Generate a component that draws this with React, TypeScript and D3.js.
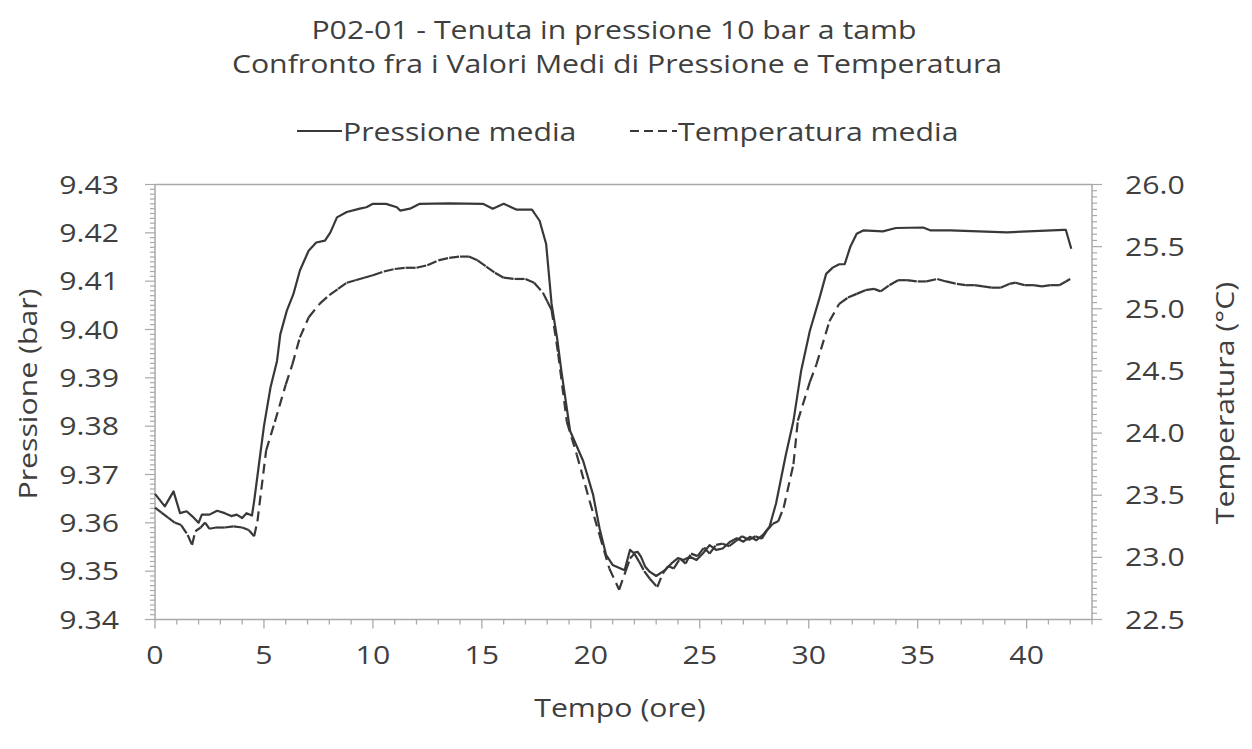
import React from "react";
import * as d3 from "d3";

const titleLines = [
  "P02-01 - Tenuta in pressione 10 bar a tamb",
  "Confronto fra i Valori Medi di Pressione e Temperatura",
];
const seriesNames = ["Pressione media", "Temperatura media"];
const xTitle = "Tempo (ore)";
const yLeftTitle = "Pressione (bar)";
const yRightTitle = "Temperatura (°C)";

// [ore, bar]
const pressione: [number, number][] = [
  [0, 9.366], [0.45, 9.3634], [0.85, 9.3665], [1.15, 9.362], [1.45, 9.3624], [1.7, 9.3614],
  [2.0, 9.36], [2.15, 9.3617], [2.5, 9.3617], [2.85, 9.3625], [3.2, 9.362], [3.5, 9.3614],
  [3.75, 9.3617], [4.0, 9.361], [4.2, 9.362], [4.45, 9.3615], [4.55, 9.3645], [4.75, 9.3714],
  [5.0, 9.380], [5.3, 9.388], [5.6, 9.3935], [5.75, 9.399], [6.05, 9.4039], [6.35, 9.4073],
  [6.65, 9.4122], [7.05, 9.4163], [7.4, 9.418], [7.8, 9.4184], [8.05, 9.4201], [8.35, 9.4232],
  [8.8, 9.4243], [9.4, 9.425], [9.7, 9.4253], [10.0, 9.426], [10.6, 9.426], [11.1, 9.4253],
  [11.25, 9.4246], [11.7, 9.425], [12.15, 9.426], [13.5, 9.4261], [15.05, 9.426], [15.5, 9.425],
  [16.0, 9.426], [16.6, 9.4248], [17.3, 9.4248], [17.65, 9.4225], [17.95, 9.4177], [18.2, 9.4053],
  [18.45, 9.3983], [18.65, 9.3914], [19.05, 9.379], [19.65, 9.3728], [20.1, 9.3659], [20.4, 9.3589],
  [20.7, 9.3534], [21.0, 9.3513], [21.55, 9.3502], [21.8, 9.3544], [21.95, 9.3538], [22.15, 9.354],
  [22.3, 9.353], [22.5, 9.3509], [22.7, 9.3499], [23.0, 9.349], [23.4, 9.3502], [23.7, 9.3516],
  [24.0, 9.3527], [24.25, 9.3523], [24.55, 9.353], [24.85, 9.3523], [25.15, 9.3537], [25.45, 9.3554],
  [25.75, 9.3544], [26.05, 9.3547], [26.4, 9.3561], [26.7, 9.3568], [27.0, 9.3561], [27.3, 9.3571],
  [27.6, 9.3564], [27.9, 9.3575], [28.2, 9.3592], [28.5, 9.364], [28.95, 9.3741], [29.3, 9.3811],
  [29.65, 9.3914], [30.05, 9.3997], [30.5, 9.4066], [30.8, 9.4115], [31.1, 9.4128], [31.4, 9.4135],
  [31.65, 9.4135], [31.9, 9.417], [32.2, 9.4198], [32.5, 9.4205], [33.4, 9.4203], [34.0, 9.421],
  [35.25, 9.4211], [35.6, 9.4205], [36.5, 9.4205], [39.1, 9.4201], [41.7, 9.4206], [41.8, 9.4206],
  [42.05, 9.4167],
];

// [ore, °C]
const temperatura: [number, number][] = [
  [0, 23.4], [0.3, 23.36], [0.6, 23.32], [0.9, 23.28], [1.2, 23.26], [1.5, 23.18], [1.7, 23.1],
  [1.85, 23.21], [2.1, 23.24], [2.3, 23.28], [2.5, 23.23], [2.8, 23.24], [3.2, 23.24], [3.6, 23.25],
  [4.0, 23.24], [4.3, 23.22], [4.55, 23.17], [4.7, 23.29], [5.1, 23.86], [5.5, 24.09], [6.0, 24.39],
  [6.3, 24.55], [6.65, 24.77], [7.05, 24.93], [7.55, 25.04], [8.0, 25.11], [8.4, 25.16], [8.8, 25.21],
  [9.2, 25.23], [9.6, 25.25], [10.0, 25.27], [10.5, 25.3], [11.0, 25.32], [11.5, 25.33], [12.0, 25.33],
  [12.5, 25.35], [13.0, 25.39], [13.5, 25.41], [14.0, 25.42], [14.4, 25.42], [14.8, 25.39], [15.2, 25.34],
  [15.6, 25.29], [16.0, 25.25], [16.5, 25.24], [17.0, 25.24], [17.4, 25.21], [17.8, 25.13], [18.0, 25.06],
  [18.2, 24.99], [18.5, 24.64], [18.9, 24.09], [19.35, 23.83], [19.95, 23.45], [20.4, 23.18],
  [20.85, 22.91], [21.3, 22.74], [21.6, 22.89], [21.8, 22.99], [22.0, 23.03], [22.2, 22.97],
  [22.45, 22.89], [22.7, 22.83], [23.05, 22.76], [23.3, 22.87], [23.55, 22.93], [23.8, 22.91],
  [24.1, 22.99], [24.35, 22.95], [24.6, 23.03], [24.9, 23.01], [25.2, 23.08], [25.45, 23.03],
  [25.75, 23.1], [26.05, 23.11], [26.35, 23.09], [26.65, 23.13], [26.95, 23.17], [27.25, 23.14],
  [27.55, 23.17], [27.85, 23.15], [28.1, 23.22], [28.35, 23.27], [28.6, 23.29], [28.85, 23.4],
  [29.3, 23.75], [29.5, 24.1], [30.05, 24.41], [30.35, 24.55], [30.95, 24.9], [31.4, 25.04],
  [31.8, 25.09], [32.2, 25.12], [32.6, 25.15], [33.0, 25.16], [33.3, 25.14], [33.7, 25.19],
  [34.1, 25.23], [34.5, 25.23], [35.0, 25.22], [35.4, 25.22], [35.9, 25.24], [36.3, 25.22],
  [36.8, 25.2], [37.2, 25.19], [37.6, 25.19], [38.0, 25.18], [38.4, 25.17], [38.8, 25.17],
  [39.2, 25.2], [39.5, 25.21], [39.9, 25.19], [40.3, 25.19], [40.7, 25.18], [41.1, 25.19],
  [41.5, 25.19], [41.8, 25.22], [42.0, 25.24],
];

const xMajorTicks = [0, 5, 10, 15, 20, 25, 30, 35, 40];
const yLeftTicks = [9.34, 9.35, 9.36, 9.37, 9.38, 9.39, 9.4, 9.41, 9.42, 9.43];
const yRightTicks = [22.5, 23.0, 23.5, 24.0, 24.5, 25.0, 25.5, 26.0];

const W = 1252;
const H = 749;
const FONT = "'Open Sans', sans-serif";
const FS = 25;
const SX = 1.21;
const TXT = "#3f3f3f";
const AX = "#a9a9a9";
const LINE = "#383838";

function T({ x, y, anchor = "middle", rotate = 0, children }: any) {
  const tr = `translate(${x},${y}) rotate(${rotate}) scale(${SX},1)`;
  return (
    <text transform={tr} textAnchor={anchor} fontFamily={FONT} fontSize={FS} fill={TXT}>
      {children}
    </text>
  );
}

export default function App() {
  const x = d3.scaleLinear().domain([0, 43]).range([155, 1092]);
  const yP = d3.scaleLinear().domain([9.34, 9.43]).range([619.5, 184.5]);
  const yT = d3.scaleLinear().domain([22.5, 26]).range([619.5, 184.5]);

  const lineP = d3
    .line<[number, number]>()
    .x((d) => x(d[0]))
    .y((d) => yP(d[1]));
  const segT = d3
    .line<[number, number]>()
    .x((d) => x(d[0]))
    .y((d) => yT(d[1]));

  const xMinor = d3.range(0, 44, 1);
  const yLMinor = d3.range(0, 91).map((i) => 9.34 + i * 0.001);
  const yRMinor = d3.range(0, 71).map((i) => 22.5 + i * 0.05);
  const [x0, x1] = x.range();
  const yBot = yP(9.34);
  const yTop = yP(9.43);

  const fmtL = d3.format(".2f");
  const fmtR = d3.format(".1f");

  return (
    <svg width={W} height={H} style={{ display: "block", position: "absolute", left: 0, top: 0, background: "#fff" }}>
      <rect x={0} y={0} width={W} height={H} fill="#fff" />
      {/* title */}
      <T x={614} y={39}>{titleLines[0]}</T>
      <T x={617} y={73}>{titleLines[1]}</T>
      {/* legend */}
      <line x1={297} x2={342} y1={131} y2={131} stroke={LINE} strokeWidth={2.2} />
      <T x={343} y={141} anchor="start">{seriesNames[0]}</T>
      <line x1={630} x2={677} y1={131} y2={131} stroke={LINE} strokeWidth={2.2} strokeDasharray="9 5" />
      <T x={678} y={141} anchor="start">{seriesNames[1]}</T>

      {/* frame */}
      <line x1={x0} x2={x1} y1={yTop} y2={yTop} stroke={AX} strokeWidth={1.5} />
      <line x1={x0} x2={x1} y1={yBot} y2={yBot} stroke={AX} strokeWidth={1.5} />
      <line x1={x0} x2={x0} y1={yTop} y2={yBot} stroke={AX} strokeWidth={1.5} />
      <line x1={x1} x2={x1} y1={yTop} y2={yBot} stroke={AX} strokeWidth={1.5} />

      {/* x ticks */}
      {xMinor.map((v) => (
        <line key={"xm" + v} x1={x(v)} x2={x(v)} y1={yBot} y2={yBot + (v % 5 === 0 ? 9 : 5)} stroke={AX} strokeWidth={1.3} />
      ))}
      {xMajorTicks.map((v) => (
        <T key={"xl" + v} x={x(v)} y={664}>{String(v)}</T>
      ))}

      {/* left ticks */}
      {yLMinor.map((v, i) => (
        <line key={"ylm" + i} x1={x0} x2={x0 - (i % 10 === 0 ? 10 : 5)} y1={yP(v)} y2={yP(v)} stroke={AX} strokeWidth={1.2} />
      ))}
      {yLeftTicks.map((v) => (
        <T key={"yl" + v} x={119} y={yP(v) + 9} anchor="end">{fmtL(v)}</T>
      ))}

      {/* right ticks */}
      {yRMinor.map((v, i) => (
        <line key={"yrm" + i} x1={x1} x2={x1 + (i % 10 === 0 ? 10 : 5)} y1={yT(v)} y2={yT(v)} stroke={AX} strokeWidth={1.2} />
      ))}
      {yRightTicks.map((v) => (
        <T key={"yr" + v} x={1125} y={yT(v) + 9} anchor="start">{fmtR(v)}</T>
      ))}

      {/* axis titles */}
      <T x={620} y={717}>{xTitle}</T>
      <T x={37} y={394} rotate={-90}>{yLeftTitle}</T>
      <T x={1234} y={403} rotate={-90}>{yRightTitle}</T>

      {/* series */}
      <path d={lineP(pressione) || ""} fill="none" stroke={LINE} strokeWidth={2.2} strokeLinejoin="round" />
      {temperatura.slice(1).map((d, i) => (
        <path
          key={"t" + i}
          d={segT([temperatura[i], d]) || ""}
          fill="none"
          stroke={LINE}
          strokeWidth={2.2}
          strokeDasharray="10 6"
        />
      ))}
    </svg>
  );
}
